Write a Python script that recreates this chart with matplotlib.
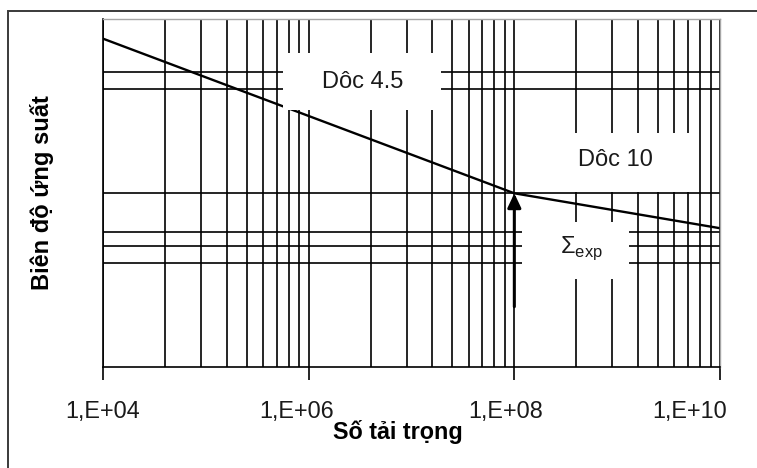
import matplotlib
matplotlib.use("Agg")
import matplotlib.pyplot as plt
from matplotlib.patches import Rectangle
from matplotlib.transforms import ScaledTranslation

plt.rcParams['font.family'] = ['Liberation Sans', 'DejaVu Sans']
plt.rcParams['mathtext.fontset'] = 'custom'
plt.rcParams['mathtext.rm'] = 'Liberation Sans'

# S-N curve: slope 4.5 up to 1e8 cycles, then slope 10
cycles = [1e4, 1e8, 1e10]
stress = [774, 100, 63]

x_major = [1e4, 1e6, 1e8, 1e10]
x_labels = ["1,E+04", "1,E+06", "1,E+08", "1,E+10"]
y_grid = [40, 50, 60, 100, 400, 500]
y_range = [10, 1000]

arrow_x = 1e8
arrow_from = 22.3
arrow_to = 100

fig = plt.figure(figsize=(7.57, 4.68), dpi=100)
ax = fig.add_axes([103 / 757, 1 - 367.3 / 468, 617 / 757, 348 / 468])

ax.set_xscale('log')
ax.set_yscale('log')
ax.set_xlim(x_major[0], x_major[-1])
ax.set_ylim(*y_range)

# excel style minor lines at k^2 steps inside each 2-decade unit
x_minor = [k ** 2 * d for d in x_major[:-1] for k in range(2, 10)]
ax.set_xticks(x_major)
ax.set_xticklabels(x_labels, fontsize=16.8, color='#1a1a1a')
ax.set_xticks(x_minor, minor=True)
ax.set_yticks(y_grid)
ax.set_yticks([], minor=True)
ax.set_yticklabels([])

ax.tick_params(axis='x', which='major', length=9, width=1.2, color='black', pad=14.4)
ax.tick_params(axis='x', which='minor', length=0)
ax.tick_params(axis='y', which='both', length=0)
ax.grid(True, which='both', axis='x', color='black', lw=1.2)
ax.grid(True, which='major', axis='y', color='black', lw=1.2)

for side in ['left', 'bottom']:
    ax.spines[side].set_color('black')
    ax.spines[side].set_linewidth(1.2)
for side in ['top', 'right']:
    ax.spines[side].set_color('#a6a6a6')
    ax.spines[side].set_linewidth(1.0)

label_shift = [0, -12, -9, -30]
for lab, dx in zip(ax.get_xticklabels(), label_shift):
    lab.set_transform(lab.get_transform() + ScaledTranslation(dx / 100, 0, fig.dpi_scale_trans))

ax.plot(cycles, stress, color='black', lw=1.7, zorder=2)

ax.annotate('', xy=(arrow_x, arrow_to), xytext=(arrow_x, arrow_from),
            arrowprops=dict(arrowstyle='-|>,head_length=0.85,head_width=0.4',
                            color='black', lw=2.2, shrinkA=0, shrinkB=0,
                            mutation_scale=10),
            zorder=2.5)

# white label boxes hiding the grid
boxes = [
    (0.2917, 0.7394, 0.2561, 0.1638),
    (0.7018, 0.5037, 0.2561, 0.1696),
    (0.6786, 0.2529, 0.1744, 0.1655),
]
for bx, by, bw, bh in boxes:
    ax.add_patch(Rectangle((bx, by), bw, bh, transform=ax.transAxes,
                           facecolor='white', edgecolor='none', zorder=3))

ax.text(0.4214, 0.8198, "Dôc 4.5", transform=ax.transAxes, fontsize=17,
        ha='center', va='center', color='#1a1a1a', zorder=4)
ax.text(0.8298, 0.5960, "Dôc 10", transform=ax.transAxes, fontsize=17,
        ha='center', va='center', color='#1a1a1a', zorder=4)
ax.text(0.7747, 0.3428, r'$\Sigma_{\mathrm{exp}}$', transform=ax.transAxes, fontsize=17,
        ha='center', va='center', color='#1a1a1a', zorder=4)

fig.text(398 / 757, 1 - 438.5 / 468, "Số tải trọng", fontsize=16.8,
         fontweight='bold', ha='center', va='baseline')
fig.text(42 / 757, 1 - 193 / 468, "Biên độ ứng suất", fontsize=17,
         fontweight='bold', rotation=90, ha='center', va='center')

# outer chart frame (cut off at right and bottom)
fig.add_artist(Rectangle((8 / 757, -0.1), 1.5, 1 - 11 / 468 + 0.1,
                         transform=fig.transFigure, fill=False,
                         edgecolor='#3a3a3a', lw=1.4))

fig.savefig('out.png', dpi=100)
